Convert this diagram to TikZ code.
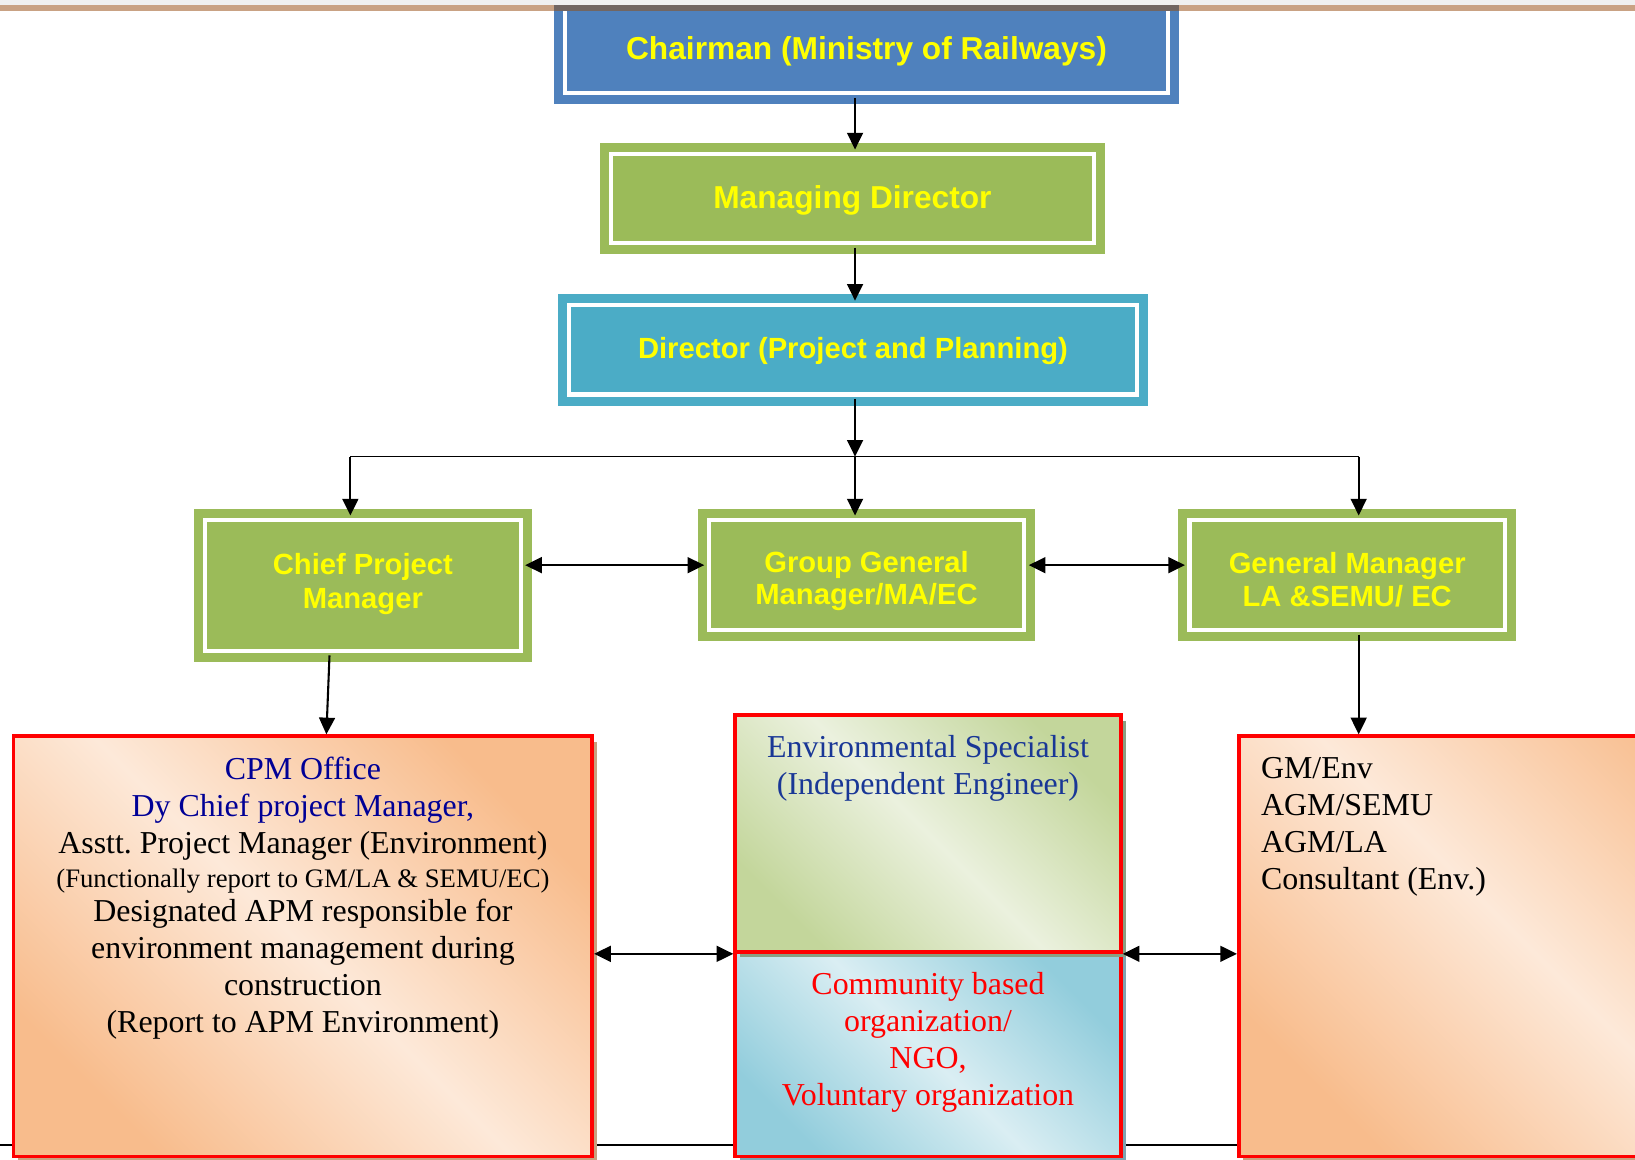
\documentclass[tikz,border=0pt]{standalone}
\usepackage{fontspec}
\setmainfont{Liberation Serif}
\setsansfont{Liberation Sans}
\usetikzlibrary{arrows.meta,shadows}
\definecolor{cblue}{HTML}{4F81BD}
\definecolor{cgreen}{HTML}{9BBB59}
\definecolor{cteal}{HTML}{4BACC6}
\definecolor{ylw}{HTML}{FFFF00}
\definecolor{orgD}{HTML}{F8BC8C}
\definecolor{orgL}{HTML}{FDE9D9}
\definecolor{grnD}{HTML}{C3D69B}
\definecolor{grnL}{HTML}{EBF1DE}
\definecolor{bluD}{HTML}{92CDDC}
\definecolor{bluL}{HTML}{DAEEF3}
\definecolor{orgS}{HTML}{C9A07E}
\definecolor{grnS}{HTML}{8A9F82}
\definecolor{bluS}{HTML}{7FA3B0}
\definecolor{navyA}{RGB}{0,0,150}
\definecolor{navyB}{RGB}{25,55,150}
\definecolor{tanband}{HTML}{C9A284}
\definecolor{darkband}{HTML}{726662}
\definecolor{topgray}{HTML}{F0F0F0}
\begin{document}
\frenchspacing
\begin{tikzpicture}[x=0.5pt,y=-0.5pt,
  hdr/.style={rectangle, draw=#1, fill=#1, line width=4.3pt, double=white, double distance=2pt,
    inner sep=0pt},
  htext/.style={inner sep=0pt, align=center, text=ylw, font=\sffamily\bfseries\fontsize{14}{16}\selectfont},
  lowbox/.style={rectangle, draw=red, line width=1.75pt, inner sep=0pt,
    drop shadow={shadow xshift=2.2pt, shadow yshift=-2.6pt, opacity=1, fill=#1}},
  orgshade/.style={top color=orgD, bottom color=orgD, middle color=orgL, shading angle=-45},
  grnshade/.style={top color=grnD, bottom color=grnD, middle color=grnL, shading angle=-45},
  blushade/.style={top color=bluD, bottom color=bluD, middle color=bluL, shading angle=-45},
  arr/.style={line width=1pt, -{Triangle[length=8pt,width=7.6pt]}},
  darr/.style={line width=0.95pt, {Triangle[length=8pt,width=7.6pt]}-{Triangle[length=8pt,width=7.6pt]}},
  body/.style={inner sep=0pt, align=center, font=\fontsize{15.3}{17.75}\selectfont},
]
\useasboundingbox (0,0) rectangle (1568,1112);
\clip (0,0) rectangle (1568,1112);
\fill[white] (0,0) rectangle (1568,1112);

% top header boxes
\node[hdr=cblue, minimum width=289.5pt, minimum height=44.75pt] (chair) at (831,44.75) {};
\node[hdr=cgreen, minimum width=231.8pt, minimum height=42.8pt] (md) at (817.5,190.5) {};
\node[hdr=cteal, minimum width=272.3pt, minimum height=42.8pt] (dir) at (818,335.5) {};
\node[hdr=cgreen, minimum width=151.3pt, minimum height=62.8pt] (cpm) at (348,561.5) {};
\node[hdr=cgreen, minimum width=151.3pt, minimum height=52.8pt] (ggm) at (831,551.5) {};
\node[hdr=cgreen, minimum width=151.3pt, minimum height=52.8pt] (gm) at (1292,551.5) {};

% header texts
\node[htext, font=\sffamily\bfseries\fontsize{15.2}{17}\selectfont] (chairtxt) at ([yshift=-2pt]chair.center) {Chairman (Ministry of Railways)};
\node[htext, font=\sffamily\bfseries\fontsize{15.2}{17}\selectfont] (mdtxt) at ([yshift=-0.8pt]md.center) {Managing Director};
\node[htext] (dirtxt) at ([yshift=-0.5pt]dir.center) {Director (Project and Planning)};
\node[htext] (cpmtxt) at ([yshift=0.7pt]cpm.center) {Chief Project\\Manager};
\node[htext, font=\sffamily\bfseries\fontsize{14}{15.5}\selectfont] (ggmtxt) at ([yshift=-3pt]ggm.center) {Group General\\Manager/MA/EC};
\node[htext, font=\sffamily\bfseries\fontsize{14}{15.5}\selectfont] (gmtxt) at ([yshift=-2.2pt]gm.center) {General Manager\\LA \&SEMU/ EC};

% page line at bottom
\coordinate (pl) at (0,1098);
\coordinate (pr) at (1568,1098);
\draw[line width=0.7pt] (pl) -- (pr);

% lower boxes
\node[lowbox=orgS, orgshade, minimum width=277.5pt, minimum height=201.5pt] (office) at (290.5,907.5) {};
\node[lowbox=bluS, blushade, minimum width=185pt, minimum height=98pt] (cbo) at (890,1011) {};
\node[lowbox=grnS, grnshade, minimum width=185pt, minimum height=113.5pt] (env) at (890,799.5) {};
\node[lowbox=orgS, orgshade, minimum width=277.5pt, minimum height=201.5pt] (gmenv) at (1465.5,907.5) {};

% texts of lower boxes
\node[body, anchor=north] (officetxt) at (290.5,726) {\textcolor{navyA}{CPM Office}\\
  \textcolor{navyA}{Dy Chief project Manager,}\\
  Asstt. Project Manager (Environment)\\[-1.5pt]
  {\fontsize{12.8}{15}\selectfont (Functionally report to GM/LA \& SEMU/EC)}\\[-1.5pt]
  Designated APM responsible for\\
  environment management during\\
  construction\\
  (Report to APM Environment)};
\node[body, anchor=north, text=navyB] (envtxt) at (890,705) {Environmental Specialist\\(Independent Engineer)};
\node[body, anchor=north, text=red] (cbotxt) at (890,932) {Community based\\organization/\\NGO,\\Voluntary organization};
\node[body, anchor=north west, align=left] (gmenvtxt) at (1209,726) {GM/Env\\AGM/SEMU\\AGM/LA\\Consultant (Env.)};

% connectors
\coordinate (spine) at (820,0);
\coordinate (busL) at (336,438);
\coordinate (busM) at (820,438);
\coordinate (busR) at (1303,438);
\draw[arr] (chair.south -| spine) -- (md.north -| spine);
\draw[arr] (md.south -| spine) -- (dir.north -| spine);
\draw[line width=0.6pt] (busL) -- (busR);
\draw[arr] (dir.south -| spine) -- (busM);
\draw[arr] (busM) -- (ggm.north -| spine);
\draw[arr] (busL) -- (cpm.north -| busL);
\draw[arr] (busR) -- (gm.north -| busR);
\coordinate (mid) at (0,542);
\draw[darr] (cpm.east |- mid) -- (ggm.west |- mid);
\draw[darr] (ggm.east |- mid) -- (gm.west |- mid);
\draw[arr] ([xshift=-16pt]cpm.south) -- ([xshift=11.25pt]office.north);
\draw[arr] (gm.south -| busR) -- (gmenv.north -| busR);
\draw[darr] (office.east |- env.south) -- (env.south west);
\draw[darr] (env.south east) -- (gmenv.west |- env.south);

% top page bands
\fill[topgray] (0,0) rectangle (1568,4.8);
\fill[tanband] (0,4.8) rectangle (1568,10.5);
\fill[darkband] (531,4.8) rectangle (1131,10.5);
\end{tikzpicture}
\end{document}
